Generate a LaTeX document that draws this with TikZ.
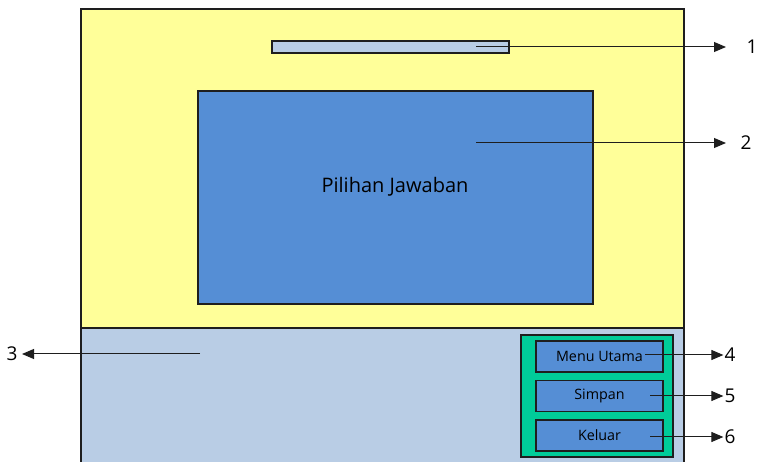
\documentclass[tikz,border=0pt]{standalone}
\usepackage{fontspec}
\setmainfont{Open Sans}
\usetikzlibrary{arrows.meta}
\definecolor{pageyellow}{RGB}{255,255,153}
\definecolor{panelgray}{RGB}{185,205,229}
\definecolor{boxblue}{RGB}{85,142,213}
\definecolor{framegreen}{RGB}{0,204,153}
\definecolor{edge}{RGB}{30,30,30}
\tikzset{
  region/.style={draw=edge, line width=1.2pt, inner sep=0pt, outer sep=0pt},
  button/.style={region, fill=boxblue, minimum width=127pt, minimum height=31pt, font=\fontsize{14.3}{16}\selectfont},
  callout/.style={-{Triangle[length=12pt,width=10pt]}, line width=1pt, draw=edge},
  num/.style={font=\fontsize{19}{21}\selectfont, inner sep=1pt},
}
\begin{document}
\begin{tikzpicture}[x=1pt, y=-1pt]
  \useasboundingbox (0,0) rectangle (761,462);
  % screen body and bottom panel
  \fill[pageyellow] (81,9) rectangle (684,328);
  \fill[panelgray] (81,328) rectangle (684,462);
  \draw[edge, line width=1.2pt] (81,462) -- (81,9) -- (684,9) -- (684,462);
  \draw[edge, line width=1.2pt] (81,328) -- (684,328);
  % title bar and answer area
  \node[region, fill=panelgray, minimum width=237pt, minimum height=12pt] (bar) at (390.5,47) {};
  \node[region, fill=boxblue, minimum width=395pt, minimum height=213pt] (answers) at (395.5,197.5) {};
  \node[font=\fontsize{20}{23}\selectfont] (answertext) at (395,187) {Pilihan Jawaban};
  % button frame and buttons
  \node[region, fill=framegreen, minimum width=152pt, minimum height=122pt] (frame) at (597,396) {};
  \node[button] (menu) at (599.5,356.5) {Menu Utama};
  \node[button] (save) at (599.5,396) {Simpan};
  \node[button] (quit) at (599.5,435.5) {Keluar};
  % callout labels
  \node[num] (n1) at (752,47) {1};
  \node[num] (n2) at (746,143) {2};
  \node[num] (n3) at (12,354) {3};
  \node[num] (n4) at (730,355) {4};
  \node[num] (n5) at (730,396) {5};
  \node[num] (n6) at (730,437) {6};
  % callout anchors inside the drawn parts
  \coordinate (c1) at (476,47);
  \coordinate (c2) at (476,143);
  \coordinate (c3) at (200,354);
  \coordinate (c4) at (645,355);
  \coordinate (c5) at (650,396);
  \coordinate (c6) at (650,437);
  \draw[callout] (c1) -- (726,47);
  \draw[callout] (c2) -- (726,143);
  \draw[callout] (c3) -- (22,354);
  \draw[callout] (c4) -- (n4.west);
  \draw[callout] (c5) -- (n5.west);
  \draw[callout] (c6) -- (n6.west);
\end{tikzpicture}
\end{document}
